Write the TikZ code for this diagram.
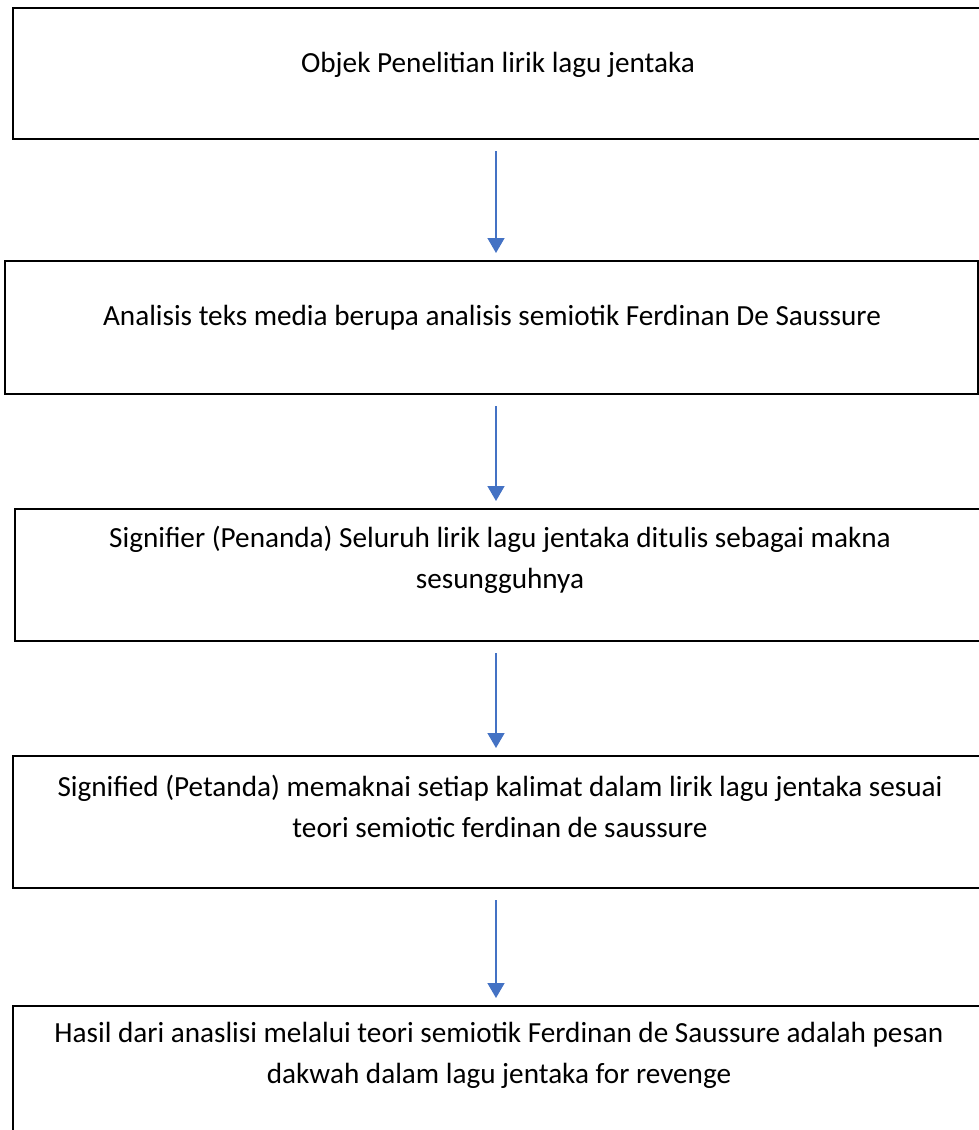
\documentclass[tikz,border=0pt]{standalone}
\usepackage{fontspec}
\setmainfont{Carlito}
\usetikzlibrary{arrows.meta}
\definecolor{flowblue}{HTML}{4472C4}

\begin{document}
\begin{tikzpicture}[x=1pt,y=-1pt]
    \tikzstyle{every node}=[font={\fontsize{29.2}{41}\selectfont}]
    \tikzstyle{stagebox}=[draw=black, line width=2.2pt, inner sep=0pt, anchor=north west]
    \tikzstyle{flow}=[draw=flowblue, line width=1.5pt, -{Triangle[width=17pt,length=15pt]}, shorten <=11pt, shorten >=7pt]
    \useasboundingbox (0,0) rectangle (979,1130);
    \clip (0,0) rectangle (979,1130);
    % boxes
    \node[stagebox, minimum width=990pt, minimum height=131pt] (obj) at (12,7) {};
    \node[stagebox, minimum width=973pt, minimum height=133pt] (ana) at (4,260) {};
    \node[stagebox, minimum width=980pt, minimum height=132pt] (sgr) at (14,508) {};
    \node[stagebox, minimum width=980pt, minimum height=132pt] (sgd) at (12,755) {};
    \node[stagebox, minimum width=980pt, minimum height=160pt] (res) at (12,1005) {};
    % texts
    \node (tobj) at (498,65) {Objek Penelitian lirik lagu jentaka};
    \node (tana) at (492,318) {Analisis teks media berupa analisis semiotik Ferdinan De Saussure};
    \node[align=center] (tsgr) at (500,560) {Signifier (Penanda) Seluruh lirik lagu jentaka ditulis sebagai makna\\sesungguhnya};
    \node[align=center] (tsgd) at (500,806) {Signified (Petanda) memaknai setiap kalimat dalam lirik lagu jentaka sesuai\\teori semiotic ferdinan de saussure};
    \node[align=center] (tres) at (499,1055) {Hasil dari anaslisi melalui teori semiotik Ferdinan de Saussure adalah pesan\\dakwah dalam lagu jentaka for revenge};
    % arrows
    \coordinate (axis) at (496,0);
    \draw[flow] (obj.south -| axis) -- (ana.north -| axis);
    \draw[flow] (ana.south -| axis) -- (sgr.north -| axis);
    \draw[flow] (sgr.south -| axis) -- (sgd.north -| axis);
    \draw[flow] (sgd.south -| axis) -- (res.north -| axis);
\end{tikzpicture}
\end{document}
